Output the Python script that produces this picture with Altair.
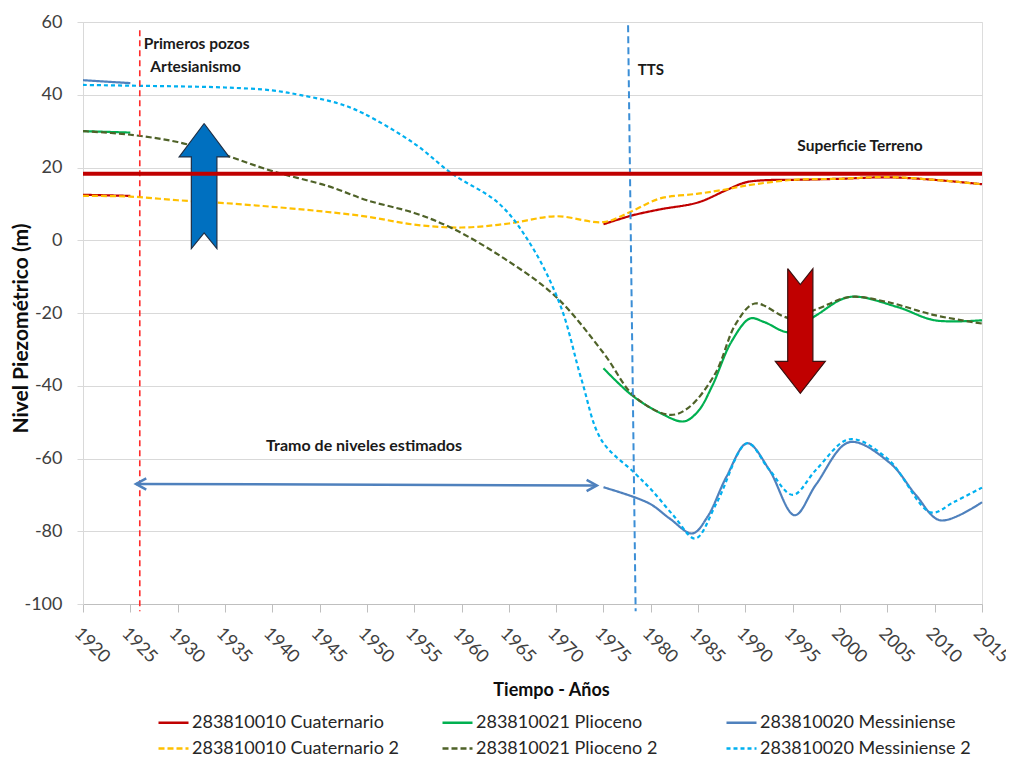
import altair as alt
import pandas as pd

# ---------------- data ----------------
SERIES = ["283810010 Cuaternario", "283810021 Plioceno", "283810020 Messiniense",
          "283810010 Cuaternario 2", "283810021 Plioceno 2", "283810020 Messiniense 2"]
COLORS = ["#c00000", "#00b050", "#4f81bd", "#ffc000", "#4f6228", "#00b0f0"]
DASHES = [[1, 0], [1, 0], [1, 0], [6, 3], [6, 3], [4, 3]]

# 283810010 Cuaternario (two measured stretches)
cua_a_years = [1920, 1925]
cua_a_vals = [12.5, 12.2]
cua_b_years = [1975, 1978, 1981, 1985, 1988, 1990, 1992, 1995, 2000, 2005, 2010, 2015]
cua_b_vals = [4.4, 6.8, 8.5, 10.4, 13.8, 15.9, 16.5, 16.6, 16.9, 17.3, 16.6, 15.4]

# 283810021 Plioceno
pli_a_years = [1920, 1925]
pli_a_vals = [30.0, 29.6]
pli_b_years = [1975, 1978, 1981, 1983.5, 1985, 1986.5, 1988.5, 1990.5, 1992, 1994.7, 1997.5, 2001, 2006, 2010, 2015]
pli_b_vals = [-35.2, -42.6, -47.5, -49.8, -47.0, -40.0, -28.0, -21.5, -22.5, -25.3, -20.6, -15.6, -18.3, -22.0, -22.0]

# 283810020 Messiniense
mes_a_years = [1920, 1925]
mes_a_vals = [44.0, 43.2]
mes_b_years = [1975, 1979.8, 1982, 1984.4, 1986, 1988, 1990.2, 1992.5, 1995.2, 1997.5, 2001, 2005.3, 2008, 2010.6, 2015]
mes_b_vals = [-67.9, -72.3, -76.5, -80.6, -76.0, -65.0, -55.8, -63.0, -75.6, -67.0, -55.5, -61.3, -70.0, -77.0, -72.0]

# 283810010 Cuaternario 2
cua2_years = [1920, 1925, 1930, 1935, 1940, 1945, 1950, 1955, 1960, 1965, 1970, 1975, 1978, 1981,
              1985, 1988, 1990, 1995, 2000, 2005, 2010, 2015]
cua2_vals = [12.2, 12.0, 11.0, 10.2, 9.2, 8.0, 6.5, 4.3, 3.5, 4.6, 6.6, 5.0, 8.0, 11.5,
             12.8, 14.0, 15.0, 16.6, 16.9, 17.4, 16.6, 15.4]

# 283810021 Plioceno 2
pli2_years = [1920, 1925, 1930, 1935, 1940, 1946, 1950, 1955, 1959, 1964.5, 1970, 1975, 1978.3, 1982,
              1984, 1986.8, 1989, 1991, 1994.7, 1997.5, 2001, 2005, 2010, 2015]
pli2_vals = [30.0, 29.0, 27.0, 23.4, 19.0, 14.8, 11.0, 7.5, 3.3, -5.0, -15.6, -31.0, -43.0, -48.0,
             -46.0, -36.7, -22.9, -17.4, -21.4, -19.0, -15.6, -17.0, -20.6, -22.9]

# 283810020 Messiniense 2
mes2_years = [1920, 1925, 1930, 1935, 1940, 1943, 1947, 1949.6, 1955, 1959, 1964, 1967.5, 1970.5, 1972.7,
              1974.8, 1978.3, 1980.1, 1982.5, 1984.7, 1987, 1990.2, 1992.5, 1995, 1997.5, 2001, 2005,
              2009.6, 2012, 2015]
mes2_vals = [42.7, 42.5, 42.3, 42.0, 41.2, 39.9, 37.6, 34.9, 26.6, 18.3, 10.0, -2.0, -18.3, -38.5,
             -55.0, -64.0, -68.7, -76.0, -82.0, -72.0, -55.8, -63.0, -70.0, -63.0, -54.7, -60.0,
             -74.8, -72.0, -68.0]

# annotations
surface_level = [18.3]
vline_red_year = [1926.0]
vline_red_top = [57.7]
vline_red_bottom = [-102.0]
vline_blue_year = [1977.6]
vline_blue_year2 = [1978.4]
vline_blue_top = [59.1]
vline_blue_bottom = [-102.0]

arrow_up_x = [1932.8, 1935.44, 1934.15, 1934.15, 1932.8, 1931.45, 1931.45, 1930.16, 1932.8]
arrow_up_y = [32.1, 22.9, 22.9, -2.3, 2.0, -2.3, 22.9, 22.9, 32.1]
arrow_dn_x = [1994.47, 1995.8, 1997.13, 1997.13, 1998.44, 1995.8, 1993.16, 1994.47, 1994.47]
arrow_dn_y = [-7.8, -12.2, -7.8, -33.3, -33.3, -42.1, -33.3, -33.3, -7.8]

span_x = [1925.6]
span_x2 = [1974.3]
span_y = [-67.0]
span_y2 = [-67.4]

label_texts = ["Primeros pozos", "Artesianismo", "TTS", "Superficie Terreno", "Tramo de niveles estimados"]
label_years = [1932.0, 1931.9, 1980.0, 2002.1, 1949.7]
label_vals = [54.0, 47.6, 46.7, 26.0, -56.6]
label_sizes = [15.5, 15.5, 15, 15.5, 16]

# ---------------- tables ----------------
rows = []
def add(name, seg, ys, vs):
    for y, v in zip(ys, vs):
        rows.append({"series": name, "seg": name + "|" + seg, "year": y, "value": v,
                     "kind": "dash" if name.endswith(" 2") else "solid"})

add(SERIES[0], "a", cua_a_years, cua_a_vals)
add(SERIES[0], "b", cua_b_years, cua_b_vals)
add(SERIES[1], "a", pli_a_years, pli_a_vals)
add(SERIES[1], "b", pli_b_years, pli_b_vals)
add(SERIES[2], "a", mes_a_years, mes_a_vals)
add(SERIES[2], "b", mes_b_years, mes_b_vals)
add(SERIES[3], "a", cua2_years, cua2_vals)
add(SERIES[4], "a", pli2_years, pli2_vals)
add(SERIES[5], "a", mes2_years, mes2_vals)
df = pd.DataFrame(rows)

FONT = "Lato"
xscale = alt.Scale(domain=[1920, 2015], nice=False, zero=False)
yscale = alt.Scale(domain=[-100, 60], nice=False, zero=False)
xaxis = alt.Axis(values=list(range(1920, 2016, 5)), format="d", labelAngle=45, grid=False,
                 tickSize=8, tickColor="#bfbfbf", domainColor="#bfbfbf", labelFontSize=18,
                 labelFont=FONT, labelColor="#404040", labelPadding=12, labelFlush=False,
                 labelOverlap=False,
                 title="Tiempo - Años", titleFont=FONT, titleFontSize=18, titleFontWeight="bold",
                 titleColor="#0d0d0d", titleX=468, titleY=86, titleBaseline="middle",
                 titleAnchor="start", titleAlign="center")
yaxis = alt.Axis(values=list(range(-100, 61, 20)), grid=True, gridColor="#d9d9d9",
                 tickSize=6, tickColor="#d9d9d9", domainColor="#d9d9d9", labelFontSize=18,
                 labelFont=FONT, labelColor="#404040", labelPadding=15,
                 labelExpr="toString(datum.value)",
                 title="Nivel Piezométrico (m)", titleFont=FONT, titleFontSize=21,
                 titleFontWeight="bold", titleColor="#0d0d0d", titleX=-52, titleY=306,
                 titleBaseline="bottom", titleAlign="center", titleAngle=270)

def X(field="year"):
    return alt.X(f"{field}:Q", scale=xscale, axis=xaxis)

def Y(field="value"):
    return alt.Y(f"{field}:Q", scale=yscale, axis=yaxis)

legend = alt.Legend(title=None, orient="none", legendX=74, legendY=684, direction="horizontal",
                    columns=3, symbolType="stroke", symbolSize=900, symbolStrokeWidth=2.5,
                    labelFont=FONT, labelFontSize=18, labelColor="#262626", labelLimit=400,
                    columnPadding=34, rowPadding=0, gridAlign="all", labelOffset=2,
                    symbolOffset=0)
color = alt.Color("series:N", scale=alt.Scale(domain=SERIES, range=COLORS), legend=legend)
dash = alt.StrokeDash("series:N", scale=alt.Scale(domain=SERIES, range=DASHES), legend=legend)

base = alt.Chart(df)
solid = base.transform_filter(alt.datum.kind == "solid").mark_line(
    interpolate="catmull-rom", strokeWidth=2.2).encode(
    x=X(), y=Y(), color=color, strokeDash=dash, detail="seg:N")
dashed = base.transform_filter(alt.datum.kind == "dash").mark_line(
    interpolate="catmull-rom", strokeWidth=2.2).encode(
    x=X(), y=Y(), color=color, strokeDash=dash, detail="seg:N")

vred = alt.Chart(pd.DataFrame({"year": vline_red_year, "value": vline_red_top,
                               "value2": vline_red_bottom})).mark_rule(
    color="#ff2a2a", strokeWidth=1.6, strokeDash=[6, 4]).encode(
    x=X(), y=Y(), y2=alt.Y2("value2"))
vblue = alt.Chart(pd.DataFrame({"year": vline_blue_year, "year2": vline_blue_year2,
                                "value": vline_blue_top, "value2": vline_blue_bottom})).mark_rule(
    color="#3b8ed6", strokeWidth=2, strokeDash=[7, 4]).encode(
    x=X(), x2=alt.X2("year2"), y=Y(), y2=alt.Y2("value2"))

up = alt.Chart(pd.DataFrame({"year": arrow_up_x, "value": arrow_up_y,
                             "o": list(range(len(arrow_up_x)))})).mark_line(
    fill="#0070c0", stroke="#1f2f45", strokeWidth=1.2, interpolate="linear").encode(
    x=X(), y=Y(), order="o:Q")
dn = alt.Chart(pd.DataFrame({"year": arrow_dn_x, "value": arrow_dn_y,
                             "o": list(range(len(arrow_dn_x)))})).mark_line(
    fill="#c00000", stroke="#3a1010", strokeWidth=1.2, interpolate="linear").encode(
    x=X(), y=Y(), order="o:Q")

surf = alt.Chart(pd.DataFrame({"value": surface_level})).mark_rule(
    color="#c00000", strokeWidth=4).encode(y=Y())

span_df = pd.DataFrame({"year": span_x, "year2": span_x2, "value": span_y, "value2": span_y2})
span = alt.Chart(span_df).mark_rule(color="#4f81bd", strokeWidth=2.5).encode(
    x=X(), x2=alt.X2("year2"), y=Y(), y2=alt.Y2("value2"))
head_l = alt.Chart(pd.DataFrame({"year": span_x, "value": span_y})).mark_point(
    shape="M1,-0.55L0,0L1,0.55", size=420, filled=False, stroke="#4f81bd", strokeWidth=2.5,
    opacity=1).encode(x=X(), y=Y())
head_r = alt.Chart(pd.DataFrame({"year": span_x2, "value": span_y2})).mark_point(
    shape="M-1,-0.55L0,0L-1,0.55", size=420, filled=False, stroke="#4f81bd", strokeWidth=2.5,
    opacity=1).encode(x=X(), y=Y())

texts = alt.Chart(pd.DataFrame({"year": label_years, "value": label_vals, "t": label_texts,
                                "fs": label_sizes})).mark_text(
    font=FONT, fontWeight="bold", color="#1a1a1a", align="center", baseline="middle").encode(
    x=X(), y=Y(), text="t:N", size=alt.Size("fs:Q", scale=None))

chart = alt.layer(solid, dashed, vred, vblue, up, surf, dn, span, head_l, head_r, texts).properties(
    width=899, height=582,
    autosize=alt.AutoSizeParams(type="none"),
    padding={"left": 75, "top": 14, "right": 24, "bottom": 152},
).configure_view(stroke=None).configure(background="white")

chart.save("out.html", embed_options={"renderer": "svg", "actions": False})
